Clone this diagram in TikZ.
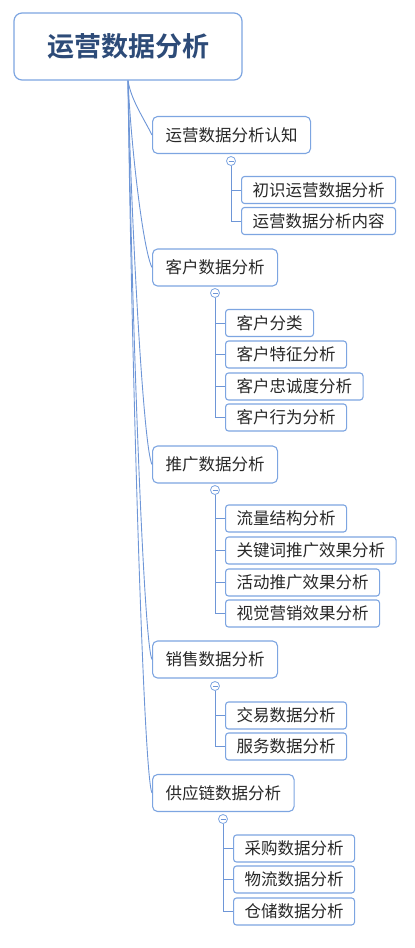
\documentclass[tikz,border=0pt]{standalone}
\usepackage{fontspec}
\newfontfamily\cjk{Noto Sans CJK SC}[BoldFont={Noto Sans CJK SC Bold}]
\usetikzlibrary{calc}

\definecolor{mapline}{RGB}{110,150,215}
\definecolor{mapedge}{RGB}{125,165,225}
\definecolor{maptitle}{RGB}{45,75,120}
\definecolor{maptext}{RGB}{40,40,40}

\tikzset{
  rootbox/.style={draw=mapedge, line width=1.2pt, rounded corners=8pt, fill=white,
    minimum width=228pt, minimum height=67pt, text=maptitle,
    font=\cjk\bfseries\fontsize{27}{30}\selectfont},
  topicbox/.style={draw=mapedge, line width=1.1pt, rounded corners=5pt, fill=white,
    anchor=west, minimum height=37pt, inner xsep=13pt, text=maptext,
    font=\cjk\fontsize{16.5}{18}\selectfont},
  leafbox/.style={draw=mapedge, line width=1.1pt, rounded corners=3pt, fill=white,
    anchor=west, minimum height=27pt, inner xsep=11pt, text=maptext,
    font=\cjk\fontsize{16.5}{18}\selectfont},
  fold/.style={circle, draw=mapedge, fill=white, line width=0.8pt, minimum size=9pt,
    inner sep=0pt, path picture={\draw[mapline, line width=0.8pt]
      ([xshift=-2.5pt]path picture bounding box.center) --
      ([xshift=2.5pt]path picture bounding box.center);}},
  link/.style={draw=mapline, line width=0.9pt},
}

\begin{document}
\begin{tikzpicture}[x=1pt, y=-1pt]
\useasboundingbox (0,0) rectangle (415,948);

% Root
\node[rootbox] (root) at (128,46.5) {运营数据分析};

% Topics
\node[topicbox] (b1) at (152,135) {运营数据分析认知};
\node[topicbox] (b2) at (152,267.5) {客户数据分析};
\node[topicbox] (b3) at (152,464.5) {推广数据分析};
\node[topicbox] (b4) at (152,659.5) {销售数据分析};
\node[topicbox] (b5) at (152,793) {供应链数据分析};

\foreach \b in {b1,b2,b3,b4,b5}
  \draw[link] (root.south) .. controls ($(root.south)!0.35!(root.south |- \b.west)+(3,0)$)
    and ($(\b.west)+(-9,-18)$) .. (\b.west);

% Topic 1
\node[fold] (f1) at (231,161) {};
\node[leafbox] (c11) at (241,190) {初识运营数据分析};
\node[leafbox] (c12) at (241,221) {运营数据分析内容};

% Topic 2
\node[fold] (f2) at (215,293) {};
\node[leafbox] (c21) at (225,323) {客户分类};
\node[leafbox] (c22) at (225,354.5) {客户特征分析};
\node[leafbox] (c23) at (225,386.5) {客户忠诚度分析};
\node[leafbox] (c24) at (225,417.5) {客户行为分析};

% Topic 3
\node[fold] (f3) at (215,490) {};
\node[leafbox] (c31) at (225,518.5) {流量结构分析};
\node[leafbox] (c32) at (225,550.5) {关键词推广效果分析};
\node[leafbox] (c33) at (225,582.5) {活动推广效果分析};
\node[leafbox] (c34) at (225,613.5) {视觉营销效果分析};

% Topic 4
\node[fold] (f4) at (215,686) {};
\node[leafbox] (c41) at (225,715.5) {交易数据分析};
\node[leafbox] (c42) at (225,746.5) {服务数据分析};

% Topic 5
\node[fold] (f5) at (223,819) {};
\node[leafbox] (c51) at (233,848.5) {采购数据分析};
\node[leafbox] (c52) at (233,879.5) {物流数据分析};
\node[leafbox] (c53) at (233,911.5) {仓储数据分析};

% Leaf links
\foreach \f/\c in {f1/c11,f1/c12,f2/c21,f2/c22,f2/c23,f2/c24,f3/c31,f3/c32,f3/c33,f3/c34,
                   f4/c41,f4/c42,f5/c51,f5/c52,f5/c53}
  \draw[link] (\f.south) |- (\c.west);
\end{tikzpicture}
\end{document}
